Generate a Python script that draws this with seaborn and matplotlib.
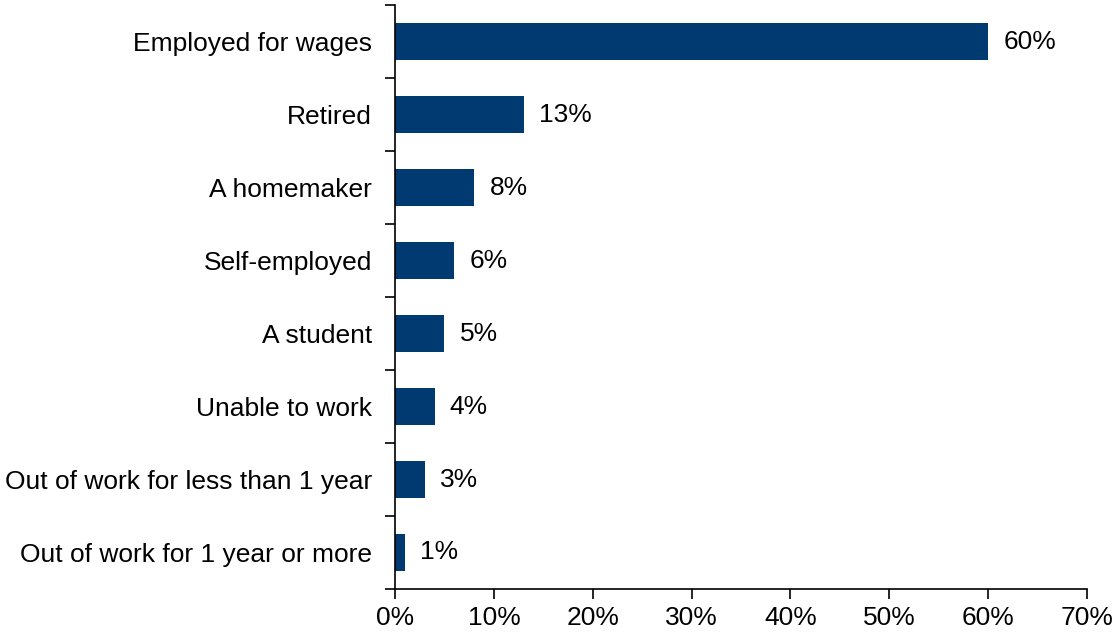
import numpy as np
import pandas as pd
import seaborn as sns
import matplotlib.pyplot as plt
from matplotlib.ticker import FixedLocator, PercentFormatter

categories = ["Employed for wages", "Retired", "A homemaker", "Self-employed",
              "A student", "Unable to work", "Out of work for less than 1 year",
              "Out of work for 1 year or more"]
values = [60, 13, 8, 6, 5, 4, 3, 1]
x_ticks = [0, 10, 20, 30, 40, 50, 60, 70]

df = pd.DataFrame({"status": categories, "pct": values})

sns.set_style("ticks")
plt.rcParams["font.family"] = ["Liberation Sans", "DejaVu Sans"]
plt.rcParams["text.color"] = "black"
plt.rcParams["xtick.color"] = "black"
plt.rcParams["ytick.color"] = "black"

fig = plt.figure(figsize=(11.14, 6.34), dpi=100)
ax = fig.add_axes([0.3546, 0.071, 0.6212, 0.921])

sns.barplot(data=df, x="pct", y="status", orient="h", color="#003A70",
            saturation=1, width=0.5, linewidth=0, ax=ax)

ax.bar_label(ax.containers[0], fmt="%d%%", padding=11, fontsize=19,
             color="black")

ax.set_xlim(0, 70)
ax.set_ylim(len(categories) - 0.5, -0.5)
ax.set_xticks(x_ticks)
ax.xaxis.set_major_formatter(PercentFormatter(decimals=0))
ax.tick_params(axis="x", labelsize=19, length=7, width=1.2, color="black", pad=5)
ax.tick_params(axis="y", which="major", labelsize=19, length=0, pad=16.5)
ax.yaxis.set_minor_locator(FixedLocator(np.arange(-0.5, len(categories), 1.0)))
ax.tick_params(axis="y", which="minor", length=7, width=1.2, color="black")

for side in ["top", "right"]:
    ax.spines[side].set_visible(False)
for side in ["left", "bottom"]:
    ax.spines[side].set_linewidth(1.2)
    ax.spines[side].set_color("black")

ax.set_xlabel("")
ax.set_ylabel("")

fig.savefig("out.png", dpi=100)
